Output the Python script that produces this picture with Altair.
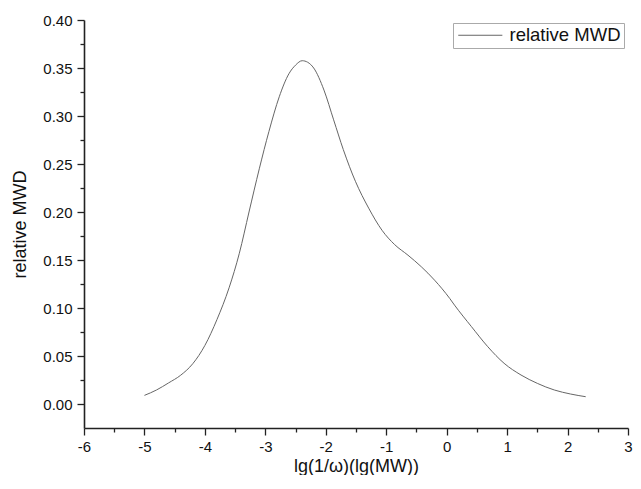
import altair as alt
import pandas as pd

# curve
xs = [-5.0, -4.8, -4.6, -4.4, -4.2, -4.0, -3.8, -3.6, -3.43, -3.27, -3.1, -2.94,
      -2.77, -2.61, -2.5, -2.39, -2.3, -2.2, -2.03, -1.87, -1.71, -1.51, -1.29,
      -1.07, -0.86, -0.64, -0.42, -0.2, 0.05, 0.13, 0.41, 0.68, 0.95, 1.23, 1.5,
      1.78, 2.05, 2.3]
ys = [0.009, 0.0146, 0.022, 0.030, 0.042, 0.061, 0.088, 0.121, 0.157, 0.200,
      0.245, 0.284, 0.320, 0.344, 0.353, 0.3576, 0.356, 0.350, 0.327, 0.296,
      0.265, 0.232, 0.204, 0.181, 0.166, 0.155, 0.143, 0.129, 0.110, 0.103,
      0.0806, 0.0597, 0.0424, 0.0302, 0.0215, 0.0146, 0.0104, 0.0076]
series_name = "relative MWD"

x_ticks = [-6 + 0.5 * i for i in range(19)]
y_ticks = [round(0.025 * i, 3) for i in range(17)]

df = pd.DataFrame({"x": xs, "y": ys, "series": series_name})

FONT = "Liberation Sans"

x_axis = alt.Axis(
    values=x_ticks,
    title="lg(1/\u03c9)(lg(MW))",
    labelExpr="datum.value % 1 === 0 ? '' + datum.value : ''",
    tickSize={"condition": {"test": "datum.value % 1 !== 0", "value": 4}, "value": 7},
    tickColor="#222",
    tickWidth=1.3,
    domainColor="#222",
    domainWidth=1.6,
    labelFontSize=15,
    labelPadding=4,
    labelColor="#111",
    labelFont=FONT,
    titleFont=FONT,
    titleFontSize=18,
    titleFontWeight="normal",
    titleColor="#111",
    titlePadding=3,
    grid=False,
    labelFlush=False,
    labelOverlap=False,
)

y_axis = alt.Axis(
    values=y_ticks,
    title="relative MWD",
    labelExpr="abs(datum.value*20 - round(datum.value*20)) < 0.001 ? format(datum.value, '.2f') : ''",
    tickSize={"condition": {"test": "abs(datum.value*20 - round(datum.value*20)) > 0.001", "value": 4}, "value": 7},
    tickColor="#222",
    tickWidth=1.3,
    domainColor="#222",
    domainWidth=1.6,
    labelFontSize=15,
    labelPadding=5,
    labelColor="#111",
    labelFont=FONT,
    titleFont=FONT,
    titleFontSize=18,
    titleFontWeight="normal",
    titleColor="#111",
    titlePadding=13,
    grid=False,
    labelFlush=False,
    labelOverlap=False,
)

chart = (
    alt.Chart(df)
    .mark_line(strokeWidth=1, interpolate="monotone")
    .encode(
        x=alt.X("x:Q", scale=alt.Scale(domain=[-6, 3], nice=False, zero=False), axis=x_axis),
        y=alt.Y("y:Q", scale=alt.Scale(domain=[-0.025, 0.40], nice=False, zero=False), axis=y_axis),
        color=alt.Color(
            "series:N",
            scale=alt.Scale(range=["#666666"]),
            legend=alt.Legend(
                title=None,
                orient="none",
                legendX=369,
                legendY=3,
                symbolType="M-1,0H5.3",
                symbolSize=196,
                symbolStrokeWidth=1,
                labelFontSize=18.5,
                labelFont=FONT,
                labelColor="#111",
                labelOffset=35,
                padding=3,
                strokeColor="#aaaaaa",
                fillColor="white",
            ),
        ),
    )
    .properties(
        width=544,
        height=408,
        autosize=alt.AutoSizeParams(type="none"),
        padding={"left": 76, "top": 12, "right": 5, "bottom": 47},
    )
    .configure_view(stroke=None)
)

chart.save("out.html", embed_options={"renderer": "svg", "actions": False})
